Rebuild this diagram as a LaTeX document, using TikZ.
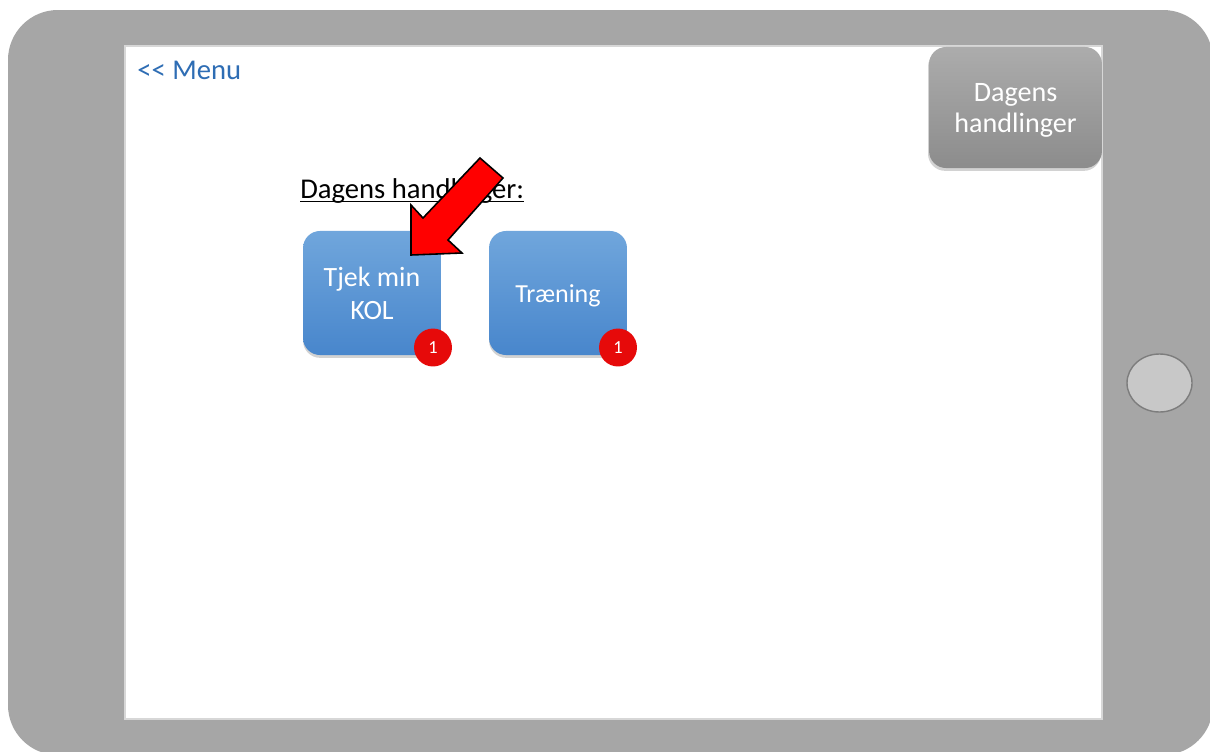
\documentclass[tikz,border=0pt]{standalone}
\usepackage{fontspec}
\setmainfont{Carlito}
\usetikzlibrary{shadows}

\definecolor{casegray}{RGB}{166,166,166}
\definecolor{screenedge}{RGB}{215,215,215}
\definecolor{homefill}{RGB}{200,200,200}
\definecolor{homeedge}{RGB}{125,125,125}
\definecolor{linkblue}{RGB}{46,109,180}
\definecolor{tiletop}{RGB}{112,166,220}
\definecolor{tilebottom}{RGB}{72,134,204}
\definecolor{btntop}{RGB}{172,172,172}
\definecolor{btnbottom}{RGB}{140,140,140}
\definecolor{badgered}{RGB}{230,10,10}

% one unit = one pixel of a 1210 x 751 canvas, y running downwards
\tikzset{
  bigtext/.style={font=\fontsize{16.3pt}{18.8pt}\selectfont},
  tile/.style={rectangle, rounded corners=9.7pt, minimum width=78.5pt,
    minimum height=70.6pt, inner sep=0pt, top color=tiletop,
    bottom color=tilebottom, text=white, align=center,
    font=\fontsize{15.9pt}{18.8pt}\selectfont,
    drop shadow={shadow xshift=0pt, shadow yshift=-1.6pt, opacity=0.35}},
  badge/.style={circle, fill=badgered, minimum size=21.6pt, inner sep=0pt,
    text=white, font=\fontsize{10.5pt}{11pt}\selectfont},
  greybtn/.style={rectangle, rounded corners=9.7pt, minimum width=98.4pt,
    minimum height=68.9pt, inner sep=0pt, top color=btntop,
    bottom color=btnbottom,
    drop shadow={shadow xshift=-0.6pt, shadow yshift=-1.6pt, opacity=0.35}},
  pointer/.style={fill=red, draw=black, line width=0.9pt, line join=miter}
}

\begin{document}
\begin{tikzpicture}[x=0.02cm, y=-0.02cm]
\useasboundingbox (0,0) rectangle (1210,751);
\clip (0,0) rectangle (1210,751);

% tablet body and screen
\fill[casegray, rounded corners=28.4pt] (8,10) rectangle (1213,755);
\filldraw[fill=white, draw=screenedge, line width=0.6pt] (125,46) rectangle (1102,719);

% home button
\filldraw[fill=homefill, draw=homeedge, line width=0.8pt]
  (1159.5,383) ellipse [x radius=32.5, y radius=29];

% back link
\node[anchor=base west, inner sep=0pt, text=linkblue, bigtext] (menu)
  at (137,79) {<\kern0pt< Menu};

% top-right button
\node[greybtn] (dagensbtn) at (1015.5,107.5) {};
\node[text=white, align=center, inner sep=0pt,
  font=\fontsize{16pt}{17.6pt}\selectfont] (dagenslbl)
  at ([yshift=-1.8pt]dagensbtn.center) {Dagens\\handlinger};

% heading with underline
\node[anchor=base west, inner sep=0pt, bigtext] (heading)
  at (300,198) {Dagens handlinger:};
\draw[line width=1.1pt]
  ([yshift=-2pt]heading.base west) -- ([yshift=-2pt]heading.base east);

% action tiles
\node[tile] (tjek) at (372,293) {Tjek min\\KOL};
\node[tile] (traening) at (558,293) {};
\node[text=white, inner sep=0pt, font=\fontsize{14.8pt}{17pt}\selectfont]
  (traeninglbl) at ([yshift=-1.5pt]traening.center) {Træning};

% notification badges
\node[badge] (badgeone) at (433,347.5) {1};
\node[badge] (badgetwo) at (618,347.5) {1};

% red pointer arrow
\filldraw[pointer] (480,158) -- (503,178) -- (448,240) -- (462,253)
  -- (411,255) -- (411,205) -- (423,218) -- cycle;
\end{tikzpicture}
\end{document}
